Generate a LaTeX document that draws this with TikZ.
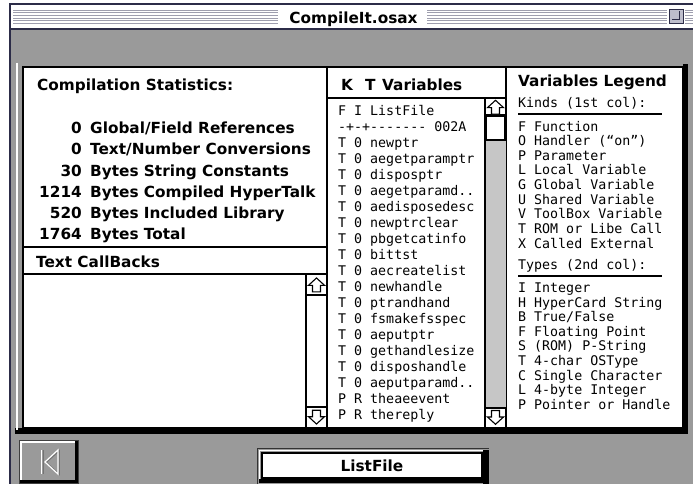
\documentclass[tikz,border=0pt]{standalone}
\usepackage{fontspec}
\newfontfamily\chicago{DejaVu Sans}
\newfontfamily\monaco{DejaVu Sans Mono}[Ligatures=TeXOff]
\definecolor{dither}{HTML}{9A9A9A}
\definecolor{track}{HTML}{C6C6C6}
\definecolor{stripe}{HTML}{9E9EAE}
\definecolor{titleframe}{HTML}{2C2C48}
\definecolor{zoomfill}{HTML}{BDBDCC}

\tikzset{
  sysbold/.style={font=\chicago\bfseries\fontsize{15.3}{17}\selectfont,
    inner sep=0pt, text height=11.2pt, text depth=0pt},
  monotext/.style={font=\monaco\fontsize{13.3}{15}\selectfont,
    inner sep=0pt, text height=9.7pt, text depth=0pt, anchor=west},
  divider/.style={line width=1.3pt},
  uparr/.pic={\draw[line width=1.1pt, fill=white]
    (0,-6.5) -- (-8,0.8) -- (-4,0.8) -- (-4,7.3) -- (4,7.3) -- (4,0.8) -- (8,0.8) -- cycle;},
  downarr/.pic={\draw[line width=1.1pt, fill=white]
    (0,6.5) -- (-8,-0.8) -- (-4,-0.8) -- (-4,-7.3) -- (4,-7.3) -- (4,-0.8) -- (8,-0.8) -- cycle;},
}

\begin{document}
\begin{tikzpicture}[x=1pt,y=-1pt]
\useasboundingbox (0,0) rectangle (693,484);
\fill[white] (0,0) rectangle (693,484);

% window body
\fill[dither] (10,29) rectangle (693,484);

% title bar
\fill[white] (10,4) rectangle (693,29);
\foreach \s in {0,...,5} {
  \draw[stripe, line width=1pt] (13,{10.3+2.67*\s}) -- (278,{10.3+2.67*\s});
  \draw[stripe, line width=1pt] (427,{10.3+2.67*\s}) -- (667,{10.3+2.67*\s});
  \draw[stripe, line width=1pt] (685,{10.3+2.67*\s}) -- (693,{10.3+2.67*\s});
}
\draw[titleframe, line width=1.3pt] (10,484) -- (10,4) -- (693,4);
\draw[titleframe, line width=1.3pt] (10,29) -- (693,29);
\node[sysbold] (title) at (353.5,17.5) {CompileIt.osax};
% zoom box
\filldraw[fill=zoomfill, draw=titleframe, line width=1pt] (669.5,9.5) rectangle (683.5,24);
\draw[titleframe, line width=1pt] (672,20) -- (679,20) -- (679,11.5);

% inset panel with its shadow and highlight
\fill[black] (15,428) rectangle (688,433.5);
\fill[black] (683,64) rectangle (688,433.5);
\draw[white, line width=1.3pt] (17,63) -- (17,430);
\fill[white] (23,67) rectangle (683,428);
\draw[line width=1.3pt] (23,67) rectangle (683,428);

% column dividers
\draw[line width=2.2pt] (327,67) -- (327,428);
\draw[line width=2.2pt] (506,67) -- (506,428);

% ---- left column: statistics ----
\node[sysbold, anchor=west] (statsHead) at (37,85) {Compilation Statistics:};
\node[sysbold, anchor=east] (num1) at (82,128)   {0};
\node[sysbold, anchor=west] (lbl1) at (90,128)   {Global/Field References};
\node[sysbold, anchor=east] (num2) at (82,149)   {0};
\node[sysbold, anchor=west] (lbl2) at (90,149)   {Text/Number Conversions};
\node[sysbold, anchor=east] (num3) at (82,170.5) {30};
\node[sysbold, anchor=west] (lbl3) at (90,170.5) {Bytes String Constants};
\node[sysbold, anchor=east] (num4) at (82,191.5) {1214};
\node[sysbold, anchor=west] (lbl4) at (90,191.5) {Bytes Compiled HyperTalk};
\node[sysbold, anchor=east] (num5) at (82,213)   {520};
\node[sysbold, anchor=west] (lbl5) at (90,213)   {Bytes Included Library};
\node[sysbold, anchor=east] (num6) at (82,234)   {1764};
\node[sysbold, anchor=west] (lbl6) at (90,234)   {Bytes Total};

\draw[divider] (23,247) -- (327,247);
\node[sysbold, anchor=west] (callHead) at (36,261.7) {Text CallBacks};
\draw[divider] (23,274) -- (327,274);

% callbacks scroll bar
\draw[divider] (306,274) -- (306,428);
\draw[divider] (306,295) -- (327,295);
\draw[divider] (306,407) -- (327,407);
\pic at (316.5,284.5) {uparr};
\pic at (316.5,417.5) {downarr};

% ---- middle column: variables list ----
\node[sysbold, anchor=west] (kHead) at (341,85) {K};
\node[sysbold, anchor=west] (tHead) at (365,85) {T};
\node[sysbold, anchor=west] (vHead) at (382,85) {Variables};
\draw[divider] (327,98) -- (506,98);

\foreach \t [count=\i from 0] in {F I ListFile, -+-+------- 002A,
    T 0 newptr, T 0 aegetparamptr, T 0 disposptr, T 0 aegetparamd..,
    T 0 aedisposedesc, T 0 newptrclear, T 0 pbgetcatinfo, T 0 bittst,
    T 0 aecreatelist, T 0 newhandle, T 0 ptrandhand, T 0 fsmakefsspec,
    T 0 aeputptr, T 0 gethandlesize, T 0 disposhandle, T 0 aeputparamd..,
    P R theaeevent, P R thereply}
  \node[monotext] (row\i) at (338,{111+16*\i}) {\t};

% list scroll bar
\fill[track] (485,140) rectangle (506,408);
\draw[divider] (485,98) -- (485,428);
\draw[divider] (485,115) -- (506,115);
\fill[white] (485,115) rectangle (506,140);
\draw[line width=2.2pt] (486.2,116) rectangle (505,140);
\draw[divider] (485,408) -- (506,408);
\pic at (495.5,106.8) {uparr};
\pic at (495.5,417.8) {downarr};

% ---- right column: legend ----
\node[sysbold, anchor=west] (legHead) at (518,81) {Variables Legend};
\node[monotext] (kindsHead) at (518,103) {Kinds (1st col):};
\draw[line width=2pt] (518,114.3) -- (662,114.3);
\foreach \t [count=\i from 0] in {F Function, O Handler (“on”), P Parameter,
    L Local Variable, G Global Variable, U Shared Variable,
    V ToolBox Variable, T ROM or Libe Call, X Called External}
  \node[monotext] (kind\i) at (518,{126.2+14.63*\i}) {\t};

\node[monotext] (typesHead) at (518,265) {Types (2nd col):};
\draw[line width=2pt] (518,276) -- (662,276);
\foreach \t [count=\i from 0] in {I Integer, H HyperCard String, B True/False,
    F Floating Point, S (ROM) P-String, T 4-char OSType,
    C Single Character, L 4-byte Integer, P Pointer or Handle}
  \node[monotext] (type\i) at (518,{287.7+14.58*\i}) {\t};

% ---- bottom: first-entry button ----
\fill[dither] (19,440) rectangle (78,483);
\draw[black!75, line width=1pt] (19,440) rectangle (78,483);
\draw[white, line width=1.6pt] (20.8,481) -- (20.8,441.8) -- (76,441.8);
\draw[black, line width=3pt] (20,481.5) -- (76.5,481.5) -- (76.5,441);
\draw[black!55, line width=1.2pt] (43.2,450) -- (43.2,474);
\draw[white, line width=1.2pt] (41.8,450) -- (41.8,474);
\draw[black!55, line width=1.2pt] (59.2,450.8) -- (46.2,462.4) -- (59.2,474.2) -- cycle;
\draw[white, line width=1.2pt] (58,450) -- (45,462) -- (58,474) -- cycle;

% ---- bottom: ListFile field ----
\fill[dither] (257,448) rectangle (489,484);
\draw[black!80, line width=1pt] (257.5,484) -- (257.5,448.5) -- (488.5,448.5);
\draw[white, line width=1pt] (259.5,480) -- (259.5,450.5) -- (484,450.5);
\fill[black] (483,450) rectangle (489,484);
\fill[black] (259,478.5) rectangle (489,483);
\fill[white] (262,453) rectangle (482,478);
\draw[line width=1.3pt] (262,453) rectangle (482,478);
\node[sysbold] (listfile) at (372,465.5) {ListFile};
\end{tikzpicture}
\end{document}
